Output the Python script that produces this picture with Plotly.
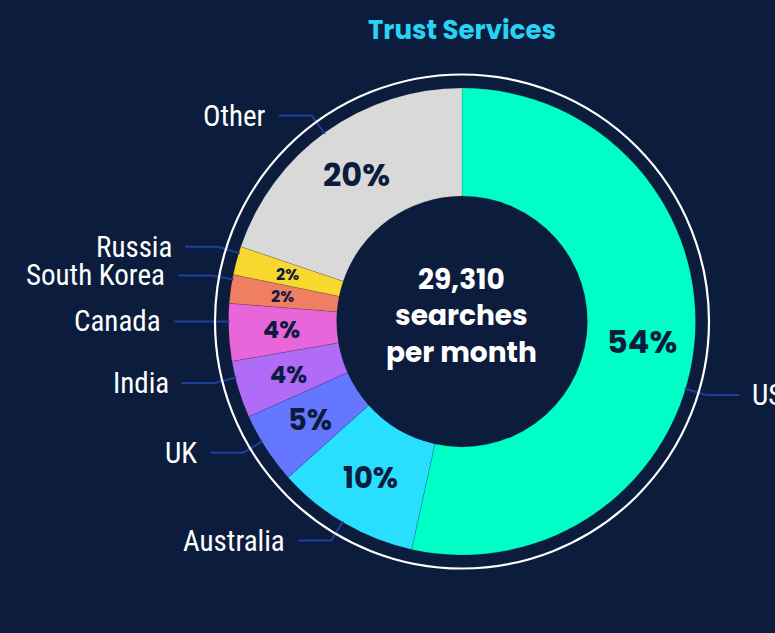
import math
import plotly.graph_objects as go

# ---- data ----
countries = ["US", "Australia", "UK", "India", "Canada", "South Korea", "Russia", "Other"]
share_pct = [54, 10, 5, 4, 4, 2, 2, 20]
total_searches = 29310
chart_title = "Trust Services"
center_caption = ["searches", "per month"]

# ---- styles ----
slice_colors = ["#00FFC6", "#29DFFF", "#6677FF", "#B06CF6", "#E866D9", "#F07E62", "#F8D72E", "#D9D9D9"]
pct_font_sizes = [32, 29, 29, 24, 24, 16, 16, 32]
label_angle_shift = [10.5, 0.5, 2, 3, 2.7, 2.4, 1.9, -0.5]  # leader-line nudges (deg)

BG = "#0B1C3D"
NAVY = "#0C1C3E"
LEADER = "#1F3F9A"
W, H = 775, 633
CX, CY = 462, 321.5
R = 233.5
HOLE = 0.537
RING_R = 247
LABEL_FONT = "Roboto Condensed, Liberation Sans Narrow, Arial Narrow, DejaVu Sans Condensed, Roboto, sans-serif"
BOLD_FONT = "Poppins, Inter, Lato, sans-serif"


def px(x):
    return x / W


def py(y):
    return 1 - y / H


fig = go.Figure()
fig.add_trace(go.Pie(
    labels=countries,
    values=share_pct,
    sort=False,
    direction="clockwise",
    rotation=0,
    hole=HOLE,
    textinfo="none",
    hoverinfo="label+percent",
    marker=dict(colors=slice_colors, line=dict(color="rgba(12,28,62,0.25)", width=0.6)),
    domain=dict(x=[px(CX - R), px(CX + R)], y=[py(CY + R), py(CY - R)]),
    showlegend=False,
))

total = sum(share_pct)
annotations = []
shapes = []
cum = 0
for i, (name, v) in enumerate(zip(countries, share_pct)):
    mid = 2 * math.pi * (cum + v / 2) / total
    cum += v
    # percentage label inside the ring
    rl = 181
    lx = CX + rl * math.sin(mid)
    ly = CY - rl * math.cos(mid)
    annotations.append(dict(
        x=px(lx), y=py(ly), xref="paper", yref="paper", showarrow=False,
        text=f"<b>{v}%</b>", font=dict(family=BOLD_FONT, size=pct_font_sizes[i], color=NAVY),
        xanchor="center", yanchor="middle",
    ))
    # leader line
    a = mid + math.radians(label_angle_shift[i])
    sx, sy = CX + (R - 1) * math.sin(a), CY - (R - 1) * math.cos(a)
    ex, ey = CX + 255 * math.sin(a), CY - 255 * math.cos(a)
    side = 1 if math.sin(a) > 0 else -1
    hx = ex + side * 33
    path = f"M {px(sx)} {py(sy)} L {px(ex)} {py(ey)} L {px(hx)} {py(ey)}"
    shapes.append(dict(type="path", path=path, xref="paper", yref="paper",
                       line=dict(color=LEADER, width=2)))
    annotations.append(dict(
        x=px(hx + side * 11), y=py(ey), xref="paper", yref="paper", showarrow=False,
        text=name, font=dict(family=LABEL_FONT, size=29, color="white"),
        xanchor="left" if side > 0 else "right", yanchor="middle",
    ))

# white ring around the donut
shapes.append(dict(type="circle", xref="paper", yref="paper",
                   x0=px(CX - RING_R), x1=px(CX + RING_R), y0=py(CY + RING_R), y1=py(CY - RING_R),
                   line=dict(color="white", width=2.2)))

# center text
annotations.append(dict(
    x=px(CX), y=py(316), xref="paper", yref="paper", showarrow=False,
    text="<b>" + f"{total_searches:,}" + "<br>" + "<br>".join(center_caption) + "</b>",
    font=dict(family=BOLD_FONT, size=28, color="white"),
    xanchor="center", yanchor="middle", align="center",
))
# title
annotations.append(dict(
    x=px(CX), y=py(30), xref="paper", yref="paper", showarrow=False,
    text=f"<b>{chart_title}</b>", font=dict(family=BOLD_FONT, size=26, color="#29D3F5"),
    xanchor="center", yanchor="middle",
))

fig.update_layout(
    width=W, height=H,
    margin=dict(l=0, r=0, t=0, b=0),
    paper_bgcolor=BG, plot_bgcolor=BG,
    shapes=shapes, annotations=annotations,
)
fig.write_html(
    "out.html",
    config={"displayModeBar": False},
    post_script="document.body.style.margin='0';document.body.style.background='#0B1C3D';"
                "document.body.style.overflow='hidden';",
)
